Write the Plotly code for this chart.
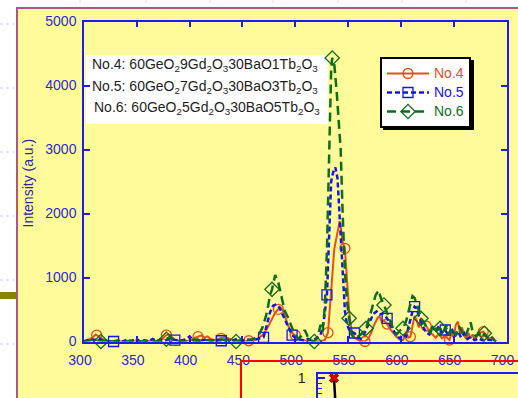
import plotly.graph_objects as go

W, H = 518, 398

# ---------------- emission spectra (wavelength nm, intensity a.u.) ----------------
wl_no4 = [300, 304, 308, 311, 312, 314, 317, 320, 326, 334, 342, 350, 358, 366, 372, 375,
          378, 380, 383, 386, 390, 396, 401, 405, 408, 411, 414, 417, 420, 424, 427, 430,
          433, 436, 440, 446, 451, 456, 461, 465, 469, 473, 477, 481, 484, 486, 488, 490,
          493, 496, 500, 504, 509, 514, 519, 524, 528, 531, 533, 535, 537, 539, 541, 542,
          543, 545, 547, 549, 551, 553, 556, 560, 563, 566, 569, 572, 575, 578, 580, 582,
          584, 587, 590, 593, 596, 599, 602, 605, 607, 609, 611, 613, 615, 617, 619, 621,
          624, 627, 630, 633, 636, 639, 642, 644, 646, 648, 650, 652, 654, 656, 658, 660,
          662, 664, 666, 668, 670, 672, 675, 678, 681, 684, 687, 690]
in_no4 = [10, 25, 60, 110, 100, 80, 40, 15, 5, 0, 10, 0, 10, 0, 15, 60,
          100, 110, 70, 30, 10, 0, 20, 60, 75, 95, 60, 80, 40, 20, 40, 50,
          70, 55, 25, 10, 5, 12, 20, 50, 100, 190, 330, 450, 503, 530, 500, 400,
          260, 150, 100, 40, 15, 5, 0, 5, 25, 138, 550, 1050, 1450, 1620, 1760, 1880,
          1800, 1550, 1456, 900, 480, 200, 60, 20, 10, 0, 40, 140, 270, 370, 390, 300,
          330, 273, 190, 130, 70, 30, 20, 150, 60, 75, 250, 400, 330, 220, 370, 300,
          242, 150, 110, 60, 120, 50, 90, 60, 23, 140, 70, 260, 310, 120, 220, 90,
          40, 130, 50, 110, 30, 80, 140, 153, 90, 40, 60, 0]
sym_no4 = [312, 378, 408, 430, 456, 484, 500, 531, 547, 566, 587, 609, 624, 646, 678]

wl_no5 = [300, 303, 306, 310, 314, 318, 322, 328, 333, 337, 341, 345, 349, 353, 357, 361,
          365, 369, 373, 377, 381, 386, 391, 396, 400, 404, 408, 412, 416, 420, 425, 430,
          435, 440, 445, 450, 455, 460, 464, 467, 470, 473, 476, 479, 482, 485, 488, 491,
          494, 497, 500, 504, 508, 512, 516, 520, 524, 527, 530, 532, 534, 536, 538, 540,
          541, 543, 545, 547, 549, 552, 556, 559, 562, 565, 568, 571, 574, 577, 580, 583,
          587, 590, 593, 596, 599, 602, 605, 608, 611, 613, 615, 617, 619, 621, 624, 627,
          630, 633, 636, 639, 642, 645, 648, 651, 654, 657, 660, 663, 666, 670, 674, 678,
          682, 686, 690]
in_no5 = [0, 20, 40, 20, 50, 10, 0, 0, 20, 0, 30, 5, 50, 0, 20, 0,
          40, 5, 25, 10, 40, 23, 10, 30, 80, 10, 30, 15, 35, 10, 25, 12,
          30, 10, 40, 15, 30, 20, 40, 50, 65, 250, 450, 560, 580, 530, 420, 320,
          190, 100, 60, 30, 15, 40, 20, 50, 100, 320, 727, 1700, 2500, 2650, 2720, 2550,
          2250, 1500, 900, 480, 260, 150, 133, 70, 40, 110, 220, 330, 430, 470, 420, 440,
          362, 250, 160, 90, 50, 110, 80, 260, 470, 544, 520, 400, 300, 230, 140, 110,
          220, 160, 240, 140, 180, 90, 210, 80, 160, 60, 130, 40, 70, 20, 50, 10,
          30, 10, 0]
sym_no5 = [328, 386, 430, 470, 497, 530, 556, 587, 613, 642]

wl_no6 = [300, 305, 310, 313, 316, 320, 326, 333, 340, 347, 354, 361, 368, 373, 376, 378,
          381, 384, 388, 394, 400, 406, 412, 418, 424, 430, 436, 440, 444, 448, 453, 458,
          462, 466, 469, 472, 474, 476, 478, 481, 484, 487, 490, 493, 496, 499, 503, 506,
          509, 512, 515, 518, 521, 524, 526, 528, 530, 532, 534, 535, 537, 539, 541, 543,
          545, 547, 549, 551, 553, 556, 559, 562, 565, 567, 570, 573, 576, 579, 581, 584,
          587, 590, 593, 596, 599, 602, 605, 608, 611, 613, 616, 619, 622, 625, 628, 631,
          634, 637, 640, 643, 646, 649, 652, 655, 658, 661, 664, 666, 668, 671, 674, 677,
          679, 682, 685, 688, 690]
in_no6 = [0, 10, 40, 25, 0, 15, 0, 10, 0, 20, 0, 15, 0, 30, 50, 35,
          70, 30, 10, 0, 15, 30, 10, 25, 10, 30, 20, 10, 0, 20, 10, 30,
          50, 120, 220, 380, 520, 720, 815, 1040, 920, 700, 480, 380, 250, 130, 40, 90,
          180, 70, 20, 0, 60, 260, 160, 550, 1430, 3000, 4250, 4430, 4320, 3950, 3450, 3000,
          1950, 1100, 620, 362, 120, 40, 70, 110, 160, 206, 360, 560, 720, 800, 680, 570,
          440, 300, 190, 110, 170, 206, 320, 520, 710, 680, 540, 362, 300, 190, 140, 260,
          170, 206, 140, 260, 110, 210, 90, 240, 140, 70, 220, 300, 150, 80, 130, 60,
          128, 50, 90, 20, 0]
sym_no6 = [316, 378, 444, 478, 518, 535, 551, 567, 584, 602, 619, 637, 679]

x_ticks = [300, 350, 400, 450, 500, 550, 600, 650, 700]
y_ticks = [0, 1000, 2000, 3000, 4000, 5000]

labels = ["No.4", "No.5", "No.6"]
compositions = [
    "No.4: 60GeO<sub>2</sub>9Gd<sub>2</sub>O<sub>3</sub>30BaO1Tb<sub>2</sub>O<sub>3</sub>",
    "No.5: 60GeO<sub>2</sub>7Gd<sub>2</sub>O<sub>3</sub>30BaO3Tb<sub>2</sub>O<sub>3</sub>",
    "No.6: 60GeO<sub>2</sub>5Gd<sub>2</sub>O<sub>3</sub>30BaO5Tb<sub>2</sub>O<sub>3</sub>",
]

# inset: normalised decay
decay_t = [0.0, 0.02, 0.04, 0.06]
decay_i = [1.0, 0.93, 0.86, 0.79]

# ---------------- styling ----------------
FONT = "Liberation Sans, Arial, sans-serif"
AXIS_BLUE = "#1c1cf0"
TICK_BLUE = "#2b2bd0"
YELLOW = "#fffa9a"
CYAN = "#ccffff"

series = [
    dict(wl=wl_no4, val=in_no4, sym=sym_no4, name=labels[0], color="#e4501c",
         width=2.0, dash="solid", symbol="circle-open", size=10),
    dict(wl=wl_no5, val=in_no5, sym=sym_no5, name=labels[1], color="#1414f0",
         width=2.5, dash="5px,3px", symbol="square-open", size=10),
    dict(wl=wl_no6, val=in_no6, sym=sym_no6, name=labels[2], color="#0b6e1a",
         width=2.5, dash="9px,5px", symbol="diamond-open", size=11),
]

# pixel -> paper helpers (margins are zero, so paper == figure)
def px(xp):
    return xp / W

def py(yp):
    return 1 - yp / H

X0, X1 = 84, 506.5      # main plot area, pixels
Y0, Y1 = 341.5, 21.5

fig = go.Figure()

for s in series:
    fig.add_trace(go.Scatter(
        x=s["wl"], y=s["val"], mode="lines",
        line=dict(color=s["color"], width=s["width"], dash=s["dash"]),
        showlegend=False, hoverinfo="skip"))
    mx = [w for w in s["wl"] if w in s["sym"]]
    my = [v for w, v in zip(s["wl"], s["val"]) if w in s["sym"]]
    fig.add_trace(go.Scatter(
        x=mx, y=my, mode="markers", cliponaxis=False,
        marker=dict(symbol=s["symbol"], size=s["size"], color=s["color"],
                    line=dict(width=1.3, color=s["color"])),
        showlegend=False, hoverinfo="skip"))
    # legend entry (line + symbol)
    fig.add_trace(go.Scatter(
        x=[None], y=[None], mode="lines+markers",
        name=f'<span style="color:{s["color"]}; font-size:14px">{s["name"]}</span>',
        line=dict(color=s["color"], width=s["width"], dash=s["dash"]),
        marker=dict(symbol=s["symbol"], size=s["size"], color=s["color"],
                    line=dict(width=1.3, color=s["color"]))))

# x-axis title, drawn as text in the plot layer so the inset sits on top of it
x_title_nm = 300 + (231 - X0) * (700 - 300) / (X1 - X0)
x_title_i = (Y0 - 383) * 5000 / (Y0 - Y1)
fig.add_trace(go.Scatter(
    x=[x_title_nm], y=[x_title_i], mode="text", text=["Wavelength (nm)"],
    textposition="middle right", cliponaxis=False,
    textfont=dict(family=FONT, size=14, color="#202040"),
    showlegend=False, hoverinfo="skip"))

# inset decay curve
fig.add_trace(go.Scatter(
    x=decay_t, y=decay_i, mode="lines", xaxis="x4", yaxis="y4",
    line=dict(color="black", width=2.5), showlegend=False, hoverinfo="skip"))
fig.add_trace(go.Scatter(
    x=decay_t[:1], y=decay_i[:1], mode="markers", xaxis="x4", yaxis="y4",
    cliponaxis=False,
    marker=dict(symbol="x", size=8, color="#e00000", line=dict(width=1, color="#700000")),
    showlegend=False, hoverinfo="skip"))

axis_common = dict(
    showline=True, linecolor=AXIS_BLUE, linewidth=1.5, mirror="ticks",
    ticks="inside", ticklen=6, tickwidth=1.5, tickcolor=AXIS_BLUE,
    showgrid=False, zeroline=False,
    tickfont=dict(family=FONT, size=14, color=TICK_BLUE),
)

hidden = dict(showline=False, showticklabels=False, ticks="", showgrid=False,
              zeroline=False, fixedrange=True)

LEG_X, LEG_Y, LEG_W, LEG_H = 380, 57, 91, 70

shapes = [
    # page grid guides on the white margin
    *[dict(type="line", xref="paper", yref="paper", x0=0, x1=px(16), y0=py(g), y1=py(g),
           line=dict(color="#c6d4f0", width=1, dash="3px,3px"), layer="below")
      for g in (24, 88, 152, 216, 280, 344)],
    *[dict(type="line", xref="paper", yref="paper", x0=px(g), x1=px(g), y0=py(0), y1=py(7),
           line=dict(color="#d6e0f4", width=1, dash="3px,3px"), layer="below")
      for g in (80, 146, 210, 273, 338, 402, 466)],
    # page
    dict(type="rect", xref="paper", yref="paper", x0=px(17), x1=px(530), y0=py(410), y1=py(8),
         fillcolor=YELLOW, line=dict(color="#b0587c", width=2), layer="below"),
    dict(type="rect", xref="paper", yref="paper", x0=0, x1=px(16), y0=py(299), y1=py(292),
         fillcolor="#86820a", line=dict(width=0), layer="below"),
    # composition box
    dict(type="rect", xref="paper", yref="paper", x0=px(86), x1=px(328), y0=py(124), y1=py(55),
         fillcolor="white", line=dict(width=0), layer="below"),
    # inset frame
    dict(type="rect", xref="paper", yref="paper", x0=px(241), x1=px(540), y0=py(420), y1=py(361),
         fillcolor="rgba(0,0,0,0)", line=dict(color="#ff0000", width=2), layer="above"),
    # legend shadow
    dict(type="rect", xref="paper", yref="paper", x0=px(LEG_X + 3), x1=px(LEG_X + LEG_W + 3),
         y0=py(LEG_Y + LEG_H + 3), y1=py(LEG_Y + 3),
         fillcolor="black", line=dict(width=0), layer="above"),
]

annotations = [
    dict(text="Intensity (a.u.)", textangle=-90, xref="paper", yref="paper",
         x=px(27.5), y=py(183), xanchor="center", yanchor="middle", showarrow=False,
         font=dict(family=FONT, size=14, color="#2828a8")),
]
for txt, yy, xx in zip(compositions, (65, 86.5, 108), (90, 90, 92)):
    annotations.append(dict(text=txt, xref="paper", yref="paper", x=px(xx), y=py(yy),
                            xanchor="left", yanchor="middle", showarrow=False,
                            font=dict(family=FONT, size=14, color="#1e1e1e")))

fig.update_layout(
    width=W, height=H, margin=dict(l=0, r=0, t=0, b=0, autoexpand=False),
    paper_bgcolor="white", plot_bgcolor=CYAN,
    font=dict(family=FONT),
    xaxis=dict(domain=[px(X0), px(X1)], range=[300, 700], tickvals=x_ticks,
               ticklabelshift=-4, ticklabelstandoff=5, **axis_common),
    yaxis=dict(domain=[py(Y0), py(Y1)], range=[0, 5000], tickvals=y_ticks,
               ticklabelstandoff=3, **axis_common),
    # inset panel (outer and inner areas)
    xaxis2=dict(domain=[px(240), 1], anchor="y2", range=[0, 1], **hidden),
    yaxis2=dict(domain=[0, py(361)], anchor="x2", range=[0, 1], **hidden),
    xaxis3=dict(domain=[px(240), 1], anchor="y3", range=[0, 1], **hidden),
    yaxis3=dict(domain=[0, py(361)], anchor="x3", range=[0, 1], **hidden),
    xaxis4=dict(domain=[px(318), 1], anchor="y4", side="top", range=[-0.8, 9.2],
                showline=True, linecolor=AXIS_BLUE, linewidth=1.5, ticks="",
                showticklabels=False, showgrid=False, zeroline=False),
    yaxis4=dict(domain=[0, py(373.5)], anchor="x4", range=[0.8, 1.045],
                tickvals=[1], ticktext=["1"], ticks="inside", ticklen=7, tickwidth=1.5,
                tickcolor=AXIS_BLUE, showline=True, linecolor=AXIS_BLUE, linewidth=1.5,
                showgrid=False, zeroline=False, ticklabelstandoff=8,
                minor=dict(tickmode="linear", tick0=0.8, dtick=0.05, ticks="inside",
                           ticklen=4, tickwidth=1.2, tickcolor=AXIS_BLUE, showgrid=False),
                tickfont=dict(family=FONT, size=14, color="#1a1a1a")),
    legend=dict(x=px(LEG_X), y=py(LEG_Y), xanchor="left", yanchor="top",
                bgcolor="white", bordercolor="black", borderwidth=2,
                font=dict(family=FONT, size=11), tracegroupgap=0, itemwidth=42),
    shapes=shapes,
    annotations=annotations,
    showlegend=True,
)

fig.write_html(
    "out.html",
    config={"responsive": False, "displayModeBar": False},
    post_script="document.body.style.margin='0px';document.body.style.overflow='hidden';",
)
